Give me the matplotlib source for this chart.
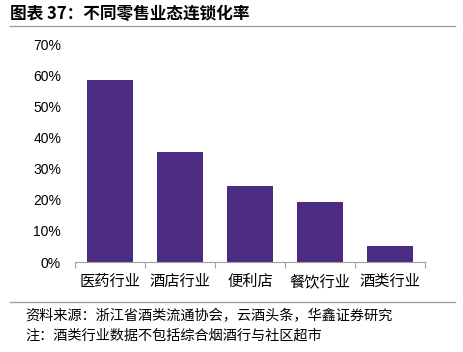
import numpy as np
import matplotlib.pyplot as plt
from matplotlib.lines import Line2D

plt.rcParams['font.family'] = ['Noto Sans CJK SC', 'DejaVu Sans']

# --- data ---
categories = ['医药行业', '酒店行业', '便利店', '餐饮行业', '酒类行业']
rates = [58.5, 35.3, 24.4, 19.3, 5.1]
yticks = [0, 10, 20, 30, 40, 50, 60, 70]

title = '图表 37：不同零售业态连锁化率'
source = '资料来源：浙江省酒类流通协会，云酒头条，华鑫证券研究'
note = '注：酒类行业数据不包括综合烟酒行与社区超市'

W, H = 463, 352
fig = plt.figure(figsize=(W / 100, H / 100), dpi=100)
ax = fig.add_axes([75 / W, 1 - 262 / H, 350 / W, 218 / H])

x = np.arange(len(categories))
ax.bar(x, rates, width=0.66, color='#4b2c82')

ax.set_xlim(-0.5, len(categories) - 0.5)
ax.set_ylim(0, 70)
ax.set_yticks(yticks)
ax.set_yticklabels([f'{v}%' for v in yticks], family=['Liberation Sans', 'DejaVu Sans'],
                   fontsize=10)
ax.tick_params(axis='y', length=0, pad=10)

# category boundary ticks on the x-axis
ax.set_xticks(np.arange(-0.5, len(categories)), minor=False)
ax.set_xticklabels([])
ax.tick_params(axis='x', length=4, color='#a0a0a0', direction='out')
ax.set_xticks(x, minor=True)
ax.set_xticklabels(categories, minor=True, fontsize=11)
ax.tick_params(axis='x', which='minor', length=0, pad=8)

for s in ['top', 'right', 'left']:
    ax.spines[s].set_visible(False)
ax.spines['bottom'].set_color('#a0a0a0')

# title and rules
fig.text(10 / W, 1 - 14 / H, title, fontsize=12, fontweight='bold', va='center')
fig.add_artist(Line2D([10 / W, 455 / W], [1 - 26 / H, 1 - 26 / H], color='#a0a0a0', lw=1))
fig.add_artist(Line2D([10 / W, 455 / W], [1 - 302 / H, 1 - 302 / H], color='#a0a0a0', lw=1))
fig.text(25 / W, 1 - 316 / H, source, fontsize=10.2, va='center')
fig.text(25 / W, 1 - 336 / H, note, fontsize=10.2, va='center')

fig.savefig('out.png', dpi=100)
